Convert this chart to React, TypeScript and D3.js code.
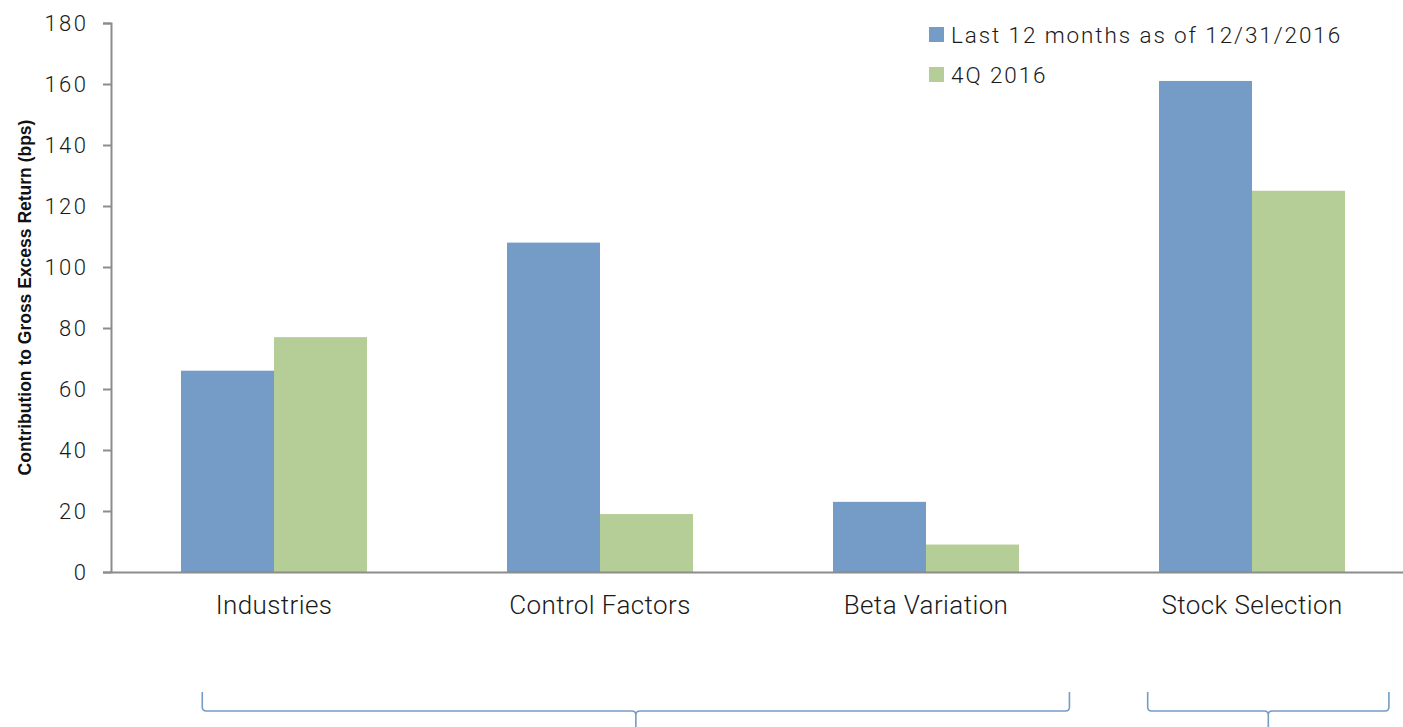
import { useEffect, useRef } from "react";
import * as d3 from "d3";

const categories = ["Industries", "Control Factors", "Beta Variation", "Stock Selection"];
const seriesNames = ["Last 12 months as of 12/31/2016", "4Q 2016"];
const last12Months = [66, 108, 23, 161];
const q4Values = [77, 19, 9, 125];
const yTicks = [0, 20, 40, 60, 80, 100, 120, 140, 160, 180];
const bracketGroups = [
  ["Industries", "Control Factors", "Beta Variation"],
  ["Stock Selection"],
];

const WIDTH = 1403;
const HEIGHT = 727;
const MARGIN = { top: 23, left: 111, bottom: 155 };
const COLORS = ["#759bc7", "#b5ce98"];
const AXIS_COLOR = "#8c8c8c";
const TEXT_COLOR = "#1a1a1a";
const FONT = "Roboto, 'Liberation Sans', Arial, sans-serif";
// inset of each bracket's ends, as fraction of a band step
const BRACKET_INSETS = [
  [0.28, 0.06],
  [0.18, 0.08],
];

export default function App() {
  const svgRef = useRef<SVGSVGElement>(null);

  useEffect(() => {
    const svg = svgRef.current;
    if (!svg) return;
    const root = d3.select(svg);
    root.selectAll("*").remove();

    const plotBottom = HEIGHT - MARGIN.bottom;
    const step = 326;
    const x = d3
      .scaleBand()
      .domain(categories)
      .range([MARGIN.left, MARGIN.left + step * categories.length])
      .paddingInner(0)
      .paddingOuter(0);
    const sub = d3.scaleBand().domain(["0", "1"]).range([0, 186]);
    const groupOffset = (x.bandwidth() - 186) / 2;
    const y = d3.scaleLinear().domain([0, 180]).range([plotBottom, MARGIN.top]);

    const series = [last12Months, q4Values];

    // bars
    series.forEach((vals, si) => {
      root
        .append("g")
        .selectAll("rect")
        .data(categories.map((c, i) => ({ c, v: vals[i] })))
        .join("rect")
        .attr("x", (d) => (x(d.c) ?? 0) + groupOffset + (sub(String(si)) ?? 0))
        .attr("y", (d) => y(d.v))
        .attr("width", sub.bandwidth())
        .attr("height", (d) => plotBottom - y(d.v))
        .attr("fill", COLORS[si]);
    });

    // y axis
    const yAxis = root
      .append("g")
      .attr("transform", `translate(${MARGIN.left},0)`)
      .call(d3.axisLeft(y).tickValues(yTicks).tickSize(8).tickPadding(14.5));
    yAxis.select(".domain").attr("stroke", AXIS_COLOR).attr("stroke-width", 2);
    yAxis.selectAll(".tick line").attr("stroke", AXIS_COLOR).attr("stroke-width", 2);
    yAxis
      .selectAll(".tick text")
      .attr("fill", TEXT_COLOR)
      .attr("font-family", FONT)
      .attr("font-weight", 300)
      .attr("font-size", 22)
      .attr("letter-spacing", 2.5);

    // x axis
    const xAxis = root
      .append("g")
      .attr("transform", `translate(0,${plotBottom})`)
      .call(d3.axisBottom(x).tickSize(0).tickPadding(24).tickSizeOuter(0));
    xAxis.select(".domain").attr("stroke", AXIS_COLOR).attr("stroke-width", 2);
    xAxis
      .selectAll(".tick text")
      .attr("fill", TEXT_COLOR)
      .attr("font-family", FONT)
      .attr("font-weight", 300)
      .attr("font-size", 26)
      .attr("letter-spacing", 0.4);

    // y label
    root
      .append("text")
      .attr("transform", `translate(31,${(MARGIN.top + plotBottom) / 2}) rotate(-90)`)
      .attr("text-anchor", "middle")
      .attr("font-family", "'Liberation Sans Narrow', 'Liberation Sans', Arial, sans-serif")
      .attr("font-weight", 700)
      .attr("font-size", 17.5)
      .attr("fill", "#111")
      .text("Contribution to Gross Excess Return (bps)");

    // legend
    const legend = root.append("g").attr("transform", "translate(929,27)");
    seriesNames.forEach((name, i) => {
      const row = legend.append("g").attr("transform", `translate(0,${i * 40})`);
      row.append("rect").attr("width", 15).attr("height", 15).attr("fill", COLORS[i]);
      row
        .append("text")
        .attr("x", 22)
        .attr("y", 16)
        .attr("font-family", FONT)
        .attr("font-weight", 300)
        .attr("font-size", 22.5)
        .attr("letter-spacing", 1.9)
        .attr("fill", TEXT_COLOR)
        .text(name);
    });

    // group brackets
    const topY = 692;
    const lineY = 711;
    const tipY = 728;
    const r = 4;
    bracketGroups.forEach((group, gi) => {
      const [a, b] = BRACKET_INSETS[gi];
      const x0 = (x(group[0]) ?? 0) + a * step;
      const x1 = (x(group[group.length - 1]) ?? 0) + step - b * step;
      const xm = (x0 + x1) / 2;
      const p = d3.path();
      p.moveTo(x0, topY);
      p.lineTo(x0, lineY - r);
      p.quadraticCurveTo(x0, lineY, x0 + r, lineY);
      p.lineTo(xm - r, lineY);
      p.quadraticCurveTo(xm, lineY, xm, lineY + r);
      p.lineTo(xm, tipY);
      p.moveTo(xm, lineY + r);
      p.quadraticCurveTo(xm, lineY, xm + r, lineY);
      p.lineTo(x1 - r, lineY);
      p.quadraticCurveTo(x1, lineY, x1, lineY - r);
      p.lineTo(x1, topY);
      root
        .append("path")
        .attr("d", p.toString())
        .attr("fill", "none")
        .attr("stroke", COLORS[0])
        .attr("stroke-width", 1.6);
    });
  }, []);

  return (
    <div style={{ position: "absolute", left: 0, top: 0, width: WIDTH, height: HEIGHT, background: "#fff" }}>
      <svg ref={svgRef} width={WIDTH} height={HEIGHT} style={{ display: "block", overflow: "hidden" }} />
    </div>
  );
}
